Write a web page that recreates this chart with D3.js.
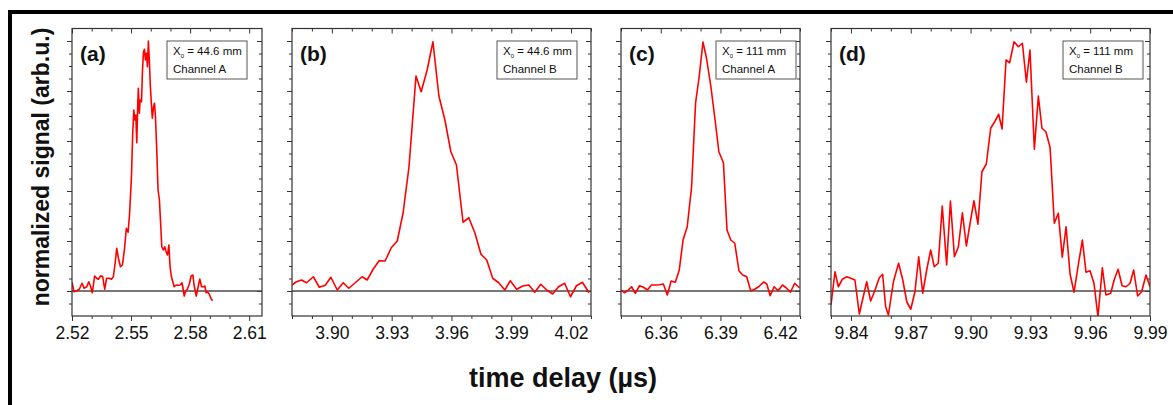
<!DOCTYPE html>
<html>
<head>
<meta charset="utf-8">
<script src="https://cdn.jsdelivr.net/npm/d3@7"></script>
<style>
  body { margin: 0; background: #fff; }
  svg { display: block; font-family: Arial, "Liberation Sans", sans-serif; }
</style>
</head>
<body>
<svg id="chart" width="1173" height="405"></svg>
<script>
// signal traces (time in µs, signal normalised)
const timeA = [2.5200, 2.5210, 2.5224, 2.5237, 2.5251, 2.5261, 2.5275, 2.5285, 2.5295, 2.5303,
  2.5315, 2.5325, 2.5334, 2.5346, 2.5356, 2.5366, 2.5376, 2.5388, 2.5400, 2.5410,
  2.5420, 2.5427, 2.5436, 2.5446, 2.5456, 2.5466, 2.5476, 2.5485, 2.5492, 2.5502,
  2.5508, 2.5514, 2.5519, 2.5524, 2.5529, 2.5534, 2.5537, 2.5542, 2.5546, 2.5553,
  2.5558, 2.5563, 2.5568, 2.5573, 2.5578, 2.5583, 2.5588, 2.5593, 2.5598, 2.5603,
  2.5608, 2.5614, 2.5619, 2.5624, 2.5631, 2.5637, 2.5644, 2.5651, 2.5656, 2.5664,
  2.5671, 2.5678, 2.5685, 2.5692, 2.5698, 2.5705, 2.5712, 2.5719, 2.5729, 2.5739,
  2.5749, 2.5759, 2.5770, 2.5778, 2.5786, 2.5797, 2.5805, 2.5814, 2.5820, 2.5831,
  2.5841, 2.5849, 2.5858, 2.5868, 2.5875, 2.5881, 2.5888, 2.5897, 2.5905, 2.5914];
const signalA = [0.035, -0.003, 0.001, 0.007, 0.031, 0.011, 0.017, 0.037, 0.017, -0.007,
  0.060, 0.051, 0.047, 0.061, 0.057, 0.007, 0.051, 0.051, 0.047, 0.057,
  0.117, 0.171, 0.131, 0.097, 0.104, 0.164, 0.251, 0.235, 0.304, 0.457,
  0.624, 0.724, 0.684, 0.704, 0.593, 0.751, 0.811, 0.711, 0.764, 0.757,
  0.884, 0.957, 0.967, 0.924, 0.951, 0.897, 1.000, 0.917, 0.817, 0.751,
  0.691, 0.737, 0.751, 0.697, 0.551, 0.404, 0.364, 0.257, 0.177, 0.164,
  0.177, 0.157, 0.144, 0.184, 0.097, 0.057, 0.037, 0.017, 0.024, 0.023,
  0.024, 0.033, -0.020, 0.001, 0.007, 0.031, 0.060, 0.064, 0.024, -0.020,
  0.017, 0.048, 0.017, 0.017, 0.020, -0.007, -0.004, -0.012, -0.029, -0.039];

const timeB = [3.8800, 3.8820, 3.8847, 3.8873, 3.8907, 3.8937, 3.8967, 3.8995, 3.9027, 3.9057,
  3.9085, 3.9120, 3.9152, 3.9177, 3.9207, 3.9237, 3.9267, 3.9298, 3.9328, 3.9357,
  3.9387, 3.9422, 3.9448, 3.9478, 3.9507, 3.9537, 3.9567, 3.9597, 3.9625, 3.9658,
  3.9687, 3.9718, 3.9748, 3.9777, 3.9807, 3.9837, 3.9868, 3.9895, 3.9927, 3.9958,
  3.9988, 4.0018, 4.0048, 4.0078, 4.0108, 4.0137, 4.0168, 4.0197, 4.0227, 4.0257, 4.0290];
const signalB = [0.024, 0.036, 0.044, 0.033, 0.057, 0.015, 0.023, 0.055, 0.004, 0.033,
  0.011, 0.035, 0.057, 0.044, 0.087, 0.121, 0.120, 0.173, 0.200, 0.311,
  0.497, 0.860, 0.797, 0.884, 0.997, 0.780, 0.684, 0.557, 0.504, 0.275,
  0.293, 0.231, 0.147, 0.124, 0.051, 0.033, 0.004, 0.041, 0.007, 0.020,
  0.024, -0.005, 0.027, 0.004, -0.012, 0.017, 0.031, -0.023, 0.021, 0.035, -0.007];

const timeC = [6.3400, 6.3417, 6.3433, 6.3453, 6.3472, 6.3493, 6.3513, 6.3533, 6.3553, 6.3577,
  6.3593, 6.3613, 6.3633, 6.3652, 6.3673, 6.3693, 6.3712, 6.3733, 6.3755, 6.3775,
  6.3793, 6.3812, 6.3830, 6.3852, 6.3872, 6.3892, 6.3915, 6.3933, 6.3952, 6.3972,
  6.3993, 6.4012, 6.4032, 6.4052, 6.4072, 6.4092, 6.4117, 6.4133, 6.4150, 6.4170,
  6.4190, 6.4212, 6.4230, 6.4252, 6.4273, 6.4297];
const signalC = [0.004, -0.007, 0.001, 0.017, -0.009, 0.021, 0.015, 0.004, 0.024, 0.024,
  0.025, 0.028, -0.016, 0.040, 0.035, 0.084, 0.204, 0.257, 0.417, 0.753,
  0.857, 0.996, 0.931, 0.817, 0.691, 0.557, 0.513, 0.244, 0.204, 0.191,
  0.081, 0.064, 0.057, 0.001, 0.007, 0.017, 0.036, 0.028, -0.019, 0.017,
  0.001, 0.024, 0.013, -0.005, 0.031, 0.013];

const timeD = [9.8300, 9.8320, 9.8337, 9.8357, 9.8379, 9.8399, 9.8420, 9.8442, 9.8479, 9.8499,
  9.8521, 9.8542, 9.8559, 9.8574, 9.8588, 9.8613, 9.8639, 9.8660, 9.8680, 9.8700,
  9.8721, 9.8740, 9.8760, 9.8780, 9.8800, 9.8818, 9.8838, 9.8858, 9.8880, 9.8899,
  9.8919, 9.8939, 9.8959, 9.8979, 9.8997, 9.9017, 9.9037, 9.9057, 9.9079, 9.9101,
  9.9121, 9.9141, 9.9158, 9.9178, 9.9196, 9.9218, 9.9240, 9.9260, 9.9280, 9.9298,
  9.9320, 9.9340, 9.9358, 9.9378, 9.9399, 9.9420, 9.9440, 9.9460, 9.9479, 9.9499,
  9.9519, 9.9541, 9.9561, 9.9579, 9.9599, 9.9619, 9.9639, 9.9661, 9.9679, 9.9703,
  9.9720, 9.9740, 9.9760, 9.9780, 9.9800, 9.9818, 9.9838, 9.9858, 9.9880, 9.9900];
const signalD = [-0.056, 0.077, 0.017, 0.047, 0.057, 0.051, 0.044, -0.092, 0.037, -0.040,
  0.004, 0.053, 0.067, -0.063, -0.096, 0.037, 0.111, 0.044, -0.043, -0.073,
  -0.003, 0.137, -0.009, 0.084, 0.164, 0.097, 0.111, 0.340, 0.104, 0.360,
  0.137, 0.177, 0.313, 0.180, 0.268, 0.361, 0.267, 0.477, 0.508, 0.651,
  0.677, 0.707, 0.648, 0.924, 0.913, 0.997, 0.977, 0.991, 0.835, 0.964,
  0.567, 0.780, 0.651, 0.637, 0.573, 0.271, 0.311, 0.135, 0.257, 0.068,
  -0.005, 0.108, 0.204, 0.075, 0.081, 0.031, -0.103, 0.093, -0.016, -0.009,
  0.044, 0.087, 0.021, 0.017, 0.031, 0.084, -0.020, -0.003, 0.064, 0.017];

// axis ranges and labelled ticks
const domainA = [2.52, 2.6165], ticksA = [2.52, 2.55, 2.58, 2.61];
const domainB = [3.88, 4.03],   ticksB = [3.90, 3.93, 3.96, 3.99, 4.02];
const domainC = [6.34, 6.43],   ticksC = [6.36, 6.39, 6.42];
const domainD = [9.83, 9.99],   ticksD = [9.84, 9.87, 9.90, 9.93, 9.96, 9.99];
const signalDomain = [-0.1, 1.05];
const signalTicks = [0, 0.2, 0.4, 0.6, 0.8, 1.0];

const panelLabels = ["(a)", "(b)", "(c)", "(d)"];
const distances = ["44.6 mm", "44.6 mm", "111 mm", "111 mm"];
const channels = ["Channel A", "Channel B", "Channel A", "Channel B"];

const panels = [
  {t: timeA, s: signalA, domain: domainA, ticks: ticksA, left: 72,  right: 262, legendX: 167},
  {t: timeB, s: signalB, domain: domainB, ticks: ticksB, left: 292, right: 591, legendX: 497},
  {t: timeC, s: signalC, domain: domainC, ticks: ticksC, left: 621, right: 800, legendX: 716},
  {t: timeD, s: signalD, domain: domainD, ticks: ticksD, left: 831, right: 1150, legendX: 1063}
];

const svg = d3.select("#chart");
const plotTop = 28.5, plotBottom = 316;
const axisColor = "#333";

const y = d3.scaleLinear().domain(signalDomain).range([plotBottom, plotTop]);
const yMinor = d3.range(-0.05, 1.0, 0.05).map(v => +v.toFixed(2)).filter(v => !signalTicks.includes(v));

// outer frame of the figure (cropped on right and bottom)
svg.append("rect")
  .attr("x", 10).attr("y", 12)
  .attr("width", 1400).attr("height", 600)
  .attr("fill", "none").attr("stroke", "#000").attr("stroke-width", 4);

panels.forEach((p, i) => {
  const x = d3.scaleLinear().domain(p.domain).range([p.left, p.right]);
  const xMinor = d3.range(Math.ceil(p.domain[0] * 100), Math.floor(p.domain[1] * 100 + 1e-6) + 1)
    .map(v => v / 100)
    .filter(v => !p.ticks.some(t => Math.abs(t - v) < 1e-6));

  const g = svg.append("g");

  const styleAxis = sel => {
    sel.select(".domain").remove();
    sel.selectAll(".tick line").attr("stroke", axisColor);
  };

  // bottom axis
  g.append("g").attr("transform", `translate(0,${plotBottom})`)
    .call(d3.axisBottom(x).tickValues(p.ticks).tickSize(5).tickFormat(d3.format(".2f")))
    .call(styleAxis)
    .call(a => a.selectAll("text").attr("font-size", 17.5).attr("fill", "#111").attr("dy", "0.85em"));
  g.append("g").attr("transform", `translate(0,${plotBottom})`)
    .call(d3.axisBottom(x).tickValues(xMinor).tickSize(3).tickFormat(""))
    .call(styleAxis);

  // top axis, ticks pointing inward
  g.append("g").attr("transform", `translate(0,${plotTop})`)
    .call(d3.axisTop(x).tickValues(p.ticks).tickSize(-5).tickFormat(""))
    .call(styleAxis);
  g.append("g").attr("transform", `translate(0,${plotTop})`)
    .call(d3.axisTop(x).tickValues(xMinor).tickSize(-3).tickFormat(""))
    .call(styleAxis);

  // left axis, outward
  g.append("g").attr("transform", `translate(${p.left},0)`)
    .call(d3.axisLeft(y).tickValues(signalTicks).tickSize(5).tickFormat(""))
    .call(styleAxis);
  g.append("g").attr("transform", `translate(${p.left},0)`)
    .call(d3.axisLeft(y).tickValues(yMinor).tickSize(3).tickFormat(""))
    .call(styleAxis);

  // right axis, inward
  g.append("g").attr("transform", `translate(${p.right},0)`)
    .call(d3.axisRight(y).tickValues(signalTicks).tickSize(-5).tickFormat(""))
    .call(styleAxis);
  g.append("g").attr("transform", `translate(${p.right},0)`)
    .call(d3.axisRight(y).tickValues(yMinor).tickSize(-3).tickFormat(""))
    .call(styleAxis);

  // zero baseline
  g.append("line")
    .attr("x1", p.left).attr("x2", p.right)
    .attr("y1", y(0)).attr("y2", y(0))
    .attr("stroke", "#4a4a4a").attr("stroke-width", 1.5);

  // signal trace
  const clipId = "clip" + i;
  g.append("clipPath").attr("id", clipId)
    .append("rect")
    .attr("x", p.left).attr("y", plotTop)
    .attr("width", p.right - p.left).attr("height", plotBottom - plotTop);

  const line = d3.line()
    .x((d, k) => x(p.t[k]))
    .y(d => y(d));

  g.append("path")
    .datum(p.s)
    .attr("clip-path", `url(#${clipId})`)
    .attr("d", line)
    .attr("fill", "none")
    .attr("stroke", "#ff0000")
    .attr("stroke-width", 1.6)
    .attr("stroke-linejoin", "round");

  // plot frame
  g.append("rect")
    .attr("x", p.left).attr("y", plotTop)
    .attr("width", p.right - p.left).attr("height", plotBottom - plotTop)
    .attr("fill", "none").attr("stroke", axisColor).attr("stroke-width", 1.2);

  // panel letter
  g.append("text")
    .attr("x", p.left + 8).attr("y", 61)
    .attr("font-size", 21).attr("font-weight", "bold")
    .attr("fill", "#111")
    .text(panelLabels[i]);

  // legend box
  const lg = g.append("g").attr("transform", `translate(${p.legendX},41)`);
  lg.append("rect")
    .attr("width", 80).attr("height", 38)
    .attr("fill", "#fff").attr("stroke", "#555").attr("stroke-width", 1);
  const t1 = lg.append("text").attr("x", 6).attr("y", 14).attr("font-size", 11.5).attr("fill", "#111");
  t1.append("tspan").text("X");
  t1.append("tspan").attr("font-size", 6).attr("dy", 3).text("0");
  t1.append("tspan").attr("dy", -3).text(" = " + distances[i]);
  lg.append("text").attr("x", 6).attr("y", 32).attr("font-size", 11.5).attr("fill", "#111")
    .text(channels[i]);
});

// axis titles
svg.append("text")
  .attr("transform", "translate(49,167) rotate(-90)")
  .attr("text-anchor", "middle")
  .attr("font-size", 23).attr("font-weight", "bold")
  .attr("fill", "#111")
  .text("normalized signal (arb.u.)");

svg.append("text")
  .attr("x", 563).attr("y", 387)
  .attr("text-anchor", "middle")
  .attr("font-size", 27).attr("font-weight", "bold")
  .attr("fill", "#111")
  .text("time delay (µs)");
</script>
</body>
</html>
